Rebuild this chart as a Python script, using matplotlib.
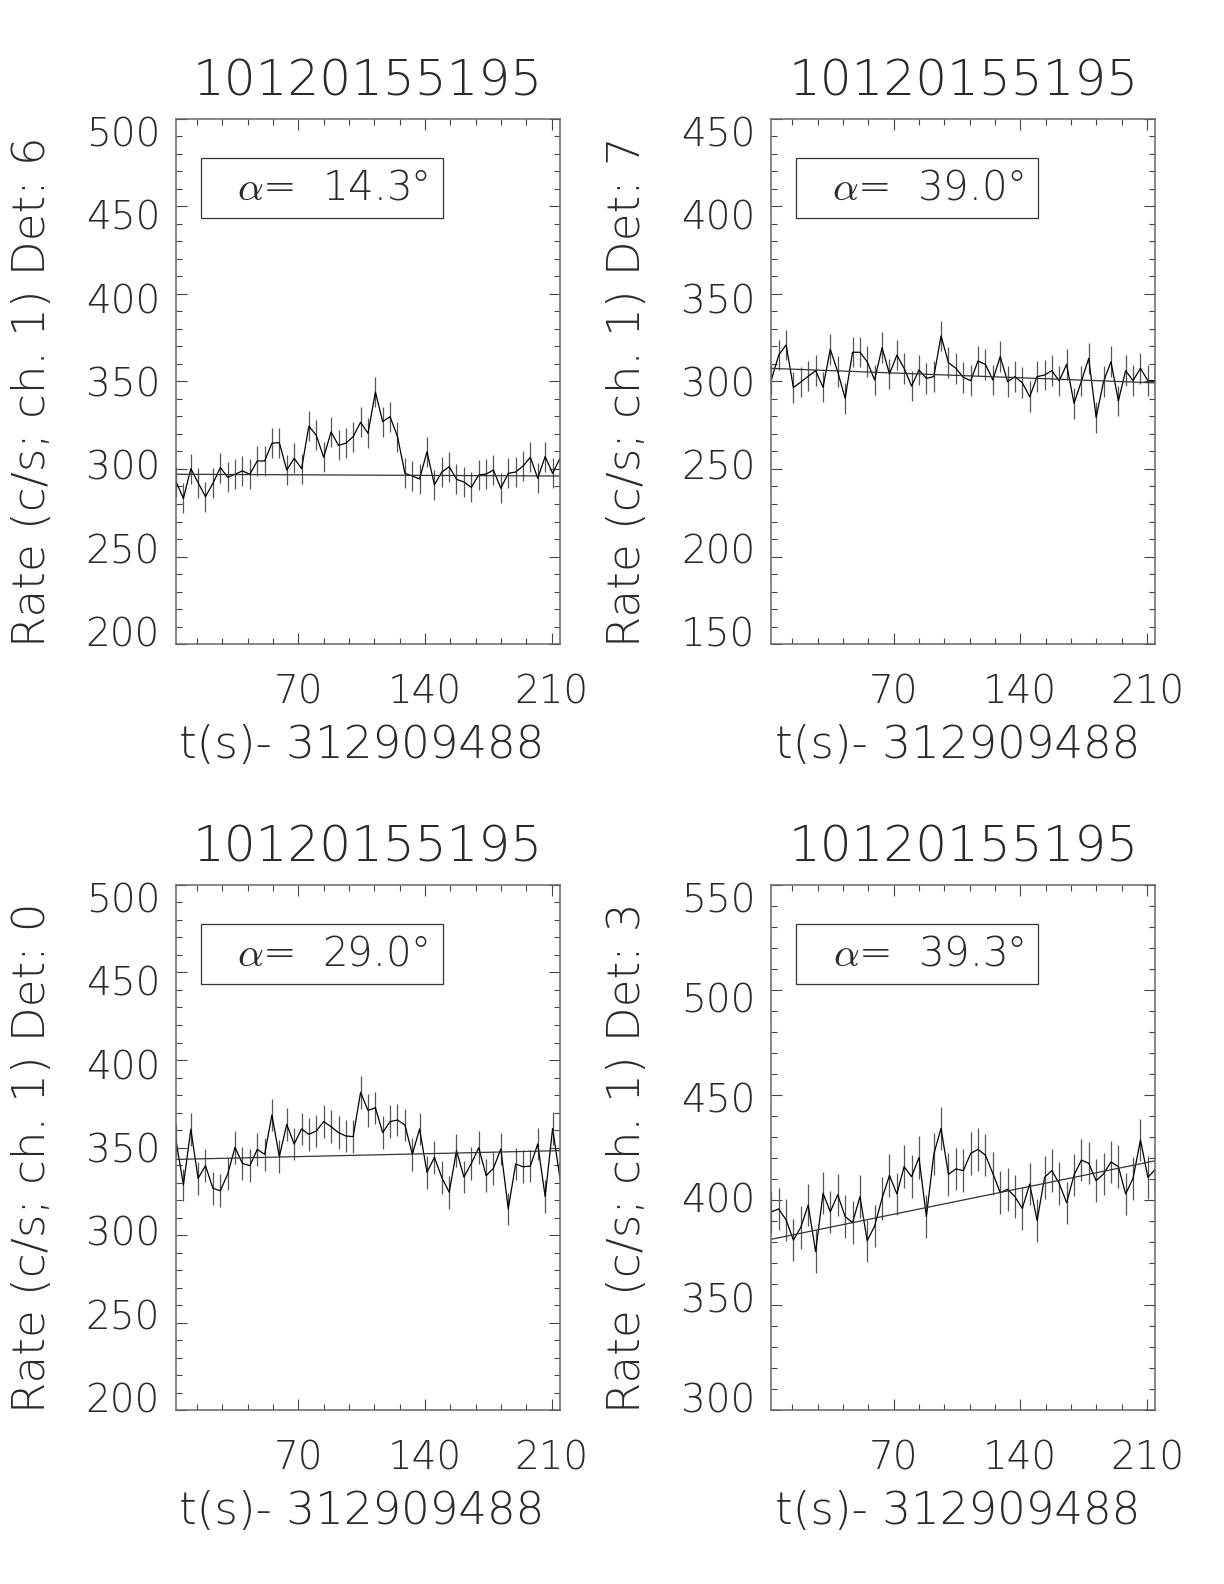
import numpy as np
import matplotlib
matplotlib.use("Agg")
import matplotlib.pyplot as plt
from matplotlib import transforms
from matplotlib.ticker import FixedLocator, MultipleLocator
from matplotlib.patches import Rectangle

# ---------------- data ----------------
t = [2.4, 6.5, 10.6, 14.6, 18.7, 22.8, 26.9, 31.0, 35.0, 39.1, 43.2, 47.3, 51.4,
     55.4, 59.5, 63.6, 67.7, 71.8, 75.8, 79.9, 84.0, 88.1, 92.2, 96.2, 100.3,
     104.4, 108.5, 112.6, 116.6, 120.7, 124.8, 128.9, 133.0, 137.0, 141.1, 145.2,
     149.3, 153.4, 157.4, 161.5, 165.6, 169.7, 173.8, 177.8, 181.9, 186.0, 190.1,
     194.2, 198.2, 202.3, 206.4, 210.5, 214.6]

rate_det6 = [292.8, 283.2, 300.2, 292.2, 284.2, 291.8, 300.8, 295.3, 297.0, 298.9,
             297.0, 304.6, 304.6, 314.7, 315.1, 299.4, 306.1, 300.2, 324.4, 319.3,
             306.7, 321.2, 313.5, 314.7, 318.5, 326.7, 320.4, 344.0, 327.1, 329.9,
             318.5, 297.5, 296.0, 294.3, 309.9, 290.9, 298.3, 301.3, 294.1, 292.6,
             289.5, 296.6, 297.1, 299.4, 289.0, 297.5, 298.3, 301.7, 306.7, 294.7,
             307.1, 297.5, 306.1]

rate_det7 = [300.9, 315.1, 320.9, 296.5, 299.7, 303.0, 306.2, 296.7, 318.4, 305.6,
             290.4, 316.7, 316.7, 311.3, 300.9, 319.3, 304.3, 315.1, 307.5, 297.4,
             306.6, 301.8, 302.8, 326.0, 310.8, 307.5, 302.4, 300.5, 311.7, 309.8,
             300.9, 314.2, 299.9, 302.8, 299.3, 291.3, 302.8, 303.7, 306.2, 300.3,
             309.8, 287.5, 300.3, 313.2, 279.5, 299.9, 311.3, 288.9, 306.2, 300.5,
             307.5, 300.5, 300.5]

rate_det0 = [353.9, 328.6, 360.4, 332.4, 339.6, 326.7, 325.3, 334.9, 350.1, 340.9,
             339.6, 348.9, 346.1, 368.6, 344.8, 363.2, 352.0, 360.6, 357.5, 359.4,
             364.8, 361.9, 358.5, 356.6, 356.2, 381.5, 371.2, 372.7, 358.5, 364.8,
             365.7, 362.9, 346.1, 360.6, 335.8, 344.4, 332.8, 324.4, 348.2, 333.1,
             340.9, 349.9, 333.9, 338.1, 349.1, 314.9, 340.6, 339.0, 339.4, 352.0,
             321.9, 360.8, 332.4]

rate_det3 = [394.4, 395.7, 390.5, 380.9, 387.0, 397.6, 375.4, 403.2, 394.4, 402.5,
             392.1, 389.2, 401.6, 380.6, 387.6, 400.8, 411.7, 402.9, 415.9, 411.1,
             420.2, 392.1, 421.9, 434.1, 412.2, 414.8, 414.0, 422.2, 424.1, 421.4,
             412.7, 403.5, 405.1, 401.6, 396.0, 407.6, 390.2, 410.8, 414.0, 407.9,
             398.7, 411.9, 419.0, 417.5, 409.2, 412.4, 418.1, 415.9, 402.9, 410.3,
             428.6, 410.8, 414.6]

rates = [rate_det6, rate_det7, rate_det0, rate_det3]
errors = [8.6, 8.7, 9.3, 10.1]
fit_start = [297.0, 307.5, 343.2, 381.3]
fit_end = [296.0, 299.2, 348.2, 418.7]
detectors = [6, 7, 0, 3]
angles = [14.3, 39.0, 29.0, 39.3]
titles = ["10120155195", "10120155195", "10120155195", "10120155195"]
ylims = [(200, 500), (150, 450), (200, 500), (300, 550)]
xtick_labels = [70, 140, 210]
xlabel = "t(s)- 312909488"

# ---------------- style ----------------
FAM = ["DejaVu Sans"]
plt.rcParams["font.family"] = FAM
plt.rcParams["mathtext.fontset"] = "cm"
TXT = "#2a2a2a"
WEIGHT = 200

fig = plt.figure(figsize=(12.24, 15.84), dpi=100)
W, H = 1224.0, 1584.0
ax_w, ax_h = 384.0, 525.0
lefts = [176.0, 771.3, 176.0, 771.3]
tops = [119.0, 119.0, 885.0, 885.0]


def shift(base, dx_px, dy_px):
    return base + transforms.ScaledTranslation(dx_px / 100.0, dy_px / 100.0,
                                               fig.dpi_scale_trans)


for i in range(4):
    L, T = lefts[i], tops[i]
    ax = fig.add_axes([L / W, 1 - (T + ax_h) / H, ax_w / W, ax_h / H])
    ymin, ymax = ylims[i]
    r = np.array(rates[i])
    e = errors[i]

    ax.vlines(t, r - e, r + e, color="#555555", lw=0.9)
    ax.plot(t, r, color="black", lw=0.9)
    ax.plot([t[0], t[-1]], [fit_start[i], fit_end[i]], color="#333333", lw=0.9)

    ax.set_xlim(t[0], t[-1])
    ax.set_ylim(ymin, ymax)

    ax.xaxis.set_major_locator(FixedLocator(xtick_labels))
    ax.xaxis.set_minor_locator(MultipleLocator(14))
    ax.yaxis.set_major_locator(MultipleLocator(50))
    ax.yaxis.set_minor_locator(MultipleLocator(10))
    ax.tick_params(which="both", direction="in", top=True, right=True,
                   labelbottom=False, labelleft=False, color="#444444")
    ax.tick_params(which="major", length=8, width=0.8)
    ax.tick_params(which="minor", length=4, width=0.8)
    for s in ax.spines.values():
        s.set_color("#666666")
        s.set_linewidth(1.1)

    # title
    ax.text(0.5, 1.0, titles[i], transform=shift(ax.transAxes, 0, 23),
            ha="center", va="baseline", fontsize=36, color=TXT,
            family=FAM, fontweight=WEIGHT)

    # x tick labels
    bx = transforms.blended_transform_factory(ax.transData, ax.transAxes)
    for v in xtick_labels:
        ax.text(v, 0.0, str(v), transform=shift(bx, 0, -60), ha="center",
                va="baseline", fontsize=28, color=TXT, family=FAM,
                fontweight=WEIGHT)

    # y tick labels (IDL-style slightly compressed towards the centre)
    by = transforms.blended_transform_factory(ax.transAxes, ax.transData)
    yc = 0.5 * (ymin + ymax)
    for v in range(ymin, ymax + 1, 50):
        v2 = yc + (v - yc) * 0.952
        ax.text(0.0, v2, str(v), transform=shift(by, -16, 0), ha="right",
                va="center_baseline", fontsize=28, color=TXT, family=FAM,
                fontweight=WEIGHT)

    # x label
    ax.text(0.5, 0.0, xlabel, transform=shift(ax.transAxes, -6, -114),
            ha="center", va="baseline", fontsize=32.5, color=TXT, family=FAM,
            fontweight=WEIGHT)

    # y label
    ax.text(0.0, 0.5, "Rate (c/s; ch. 1) Det: %d" % detectors[i],
            transform=shift(ax.transAxes, -131, -10), rotation=90,
            rotation_mode="anchor", ha="center", va="baseline", fontsize=32.5,
            color=TXT, family=FAM, fontweight=WEIGHT)

    # angle box
    ax.add_patch(Rectangle((0.065, 0.811), 0.63, 0.115, transform=ax.transAxes,
                           fill=False, edgecolor="#333333", lw=0.9))
    ax.text(0.409, 0.8685, r"$\alpha$=  %.1f°" % angles[i],
            transform=ax.transAxes, ha="center", va="center", fontsize=29,
            color=TXT, family=FAM, fontweight=WEIGHT)

fig.savefig("out.png", dpi=100)
